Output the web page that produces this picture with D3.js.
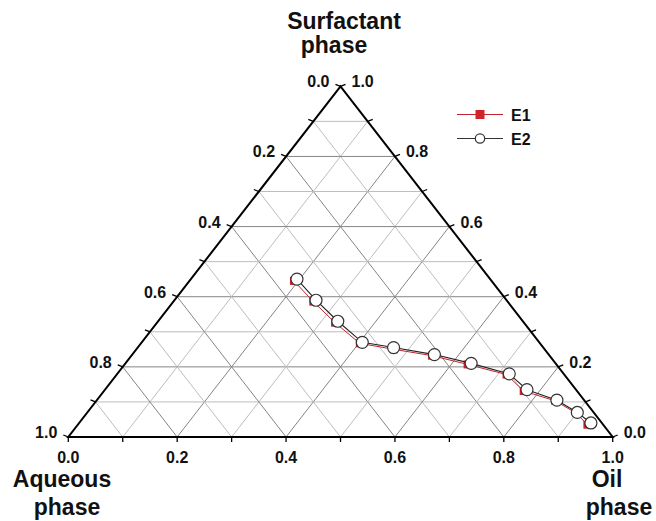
<!DOCTYPE html>
<html>
<head>
<meta charset="utf-8">
<script src="https://cdn.jsdelivr.net/npm/d3@7"></script>
<style>
    body { margin: 0; background: #fff; }
    svg text { font-family: "Liberation Sans", Arial, sans-serif; fill: #111; }
    .grid-minor { stroke: #bdbdbd; stroke-width: 1; }
    .grid-major { stroke: #858585; stroke-width: 1; }
    .axis-line { stroke: #000; stroke-width: 2; fill: none; }
    .tick { stroke: #000; stroke-width: 1.3; }
    .tick-label { font-size: 16px; font-weight: bold; }
    .title { font-size: 23px; font-weight: bold; }
</style>
</head>
<body>
<svg id="canvas" width="656" height="521"></svg>
<script>
    // ternary data: fractions of surfactant, oil, aqueous phase
    const seriesNames = ["E1", "E2"];
    const e1Surfactant = [0.445, 0.386, 0.326, 0.267, 0.25, 0.232, 0.207, 0.178, 0.131, 0.103, 0.068, 0.035];
    const e1Oil        = [0.192, 0.257, 0.327, 0.402, 0.473, 0.552, 0.63, 0.716, 0.771, 0.843, 0.899, 0.936];
    const e1Aqueous    = [0.363, 0.357, 0.347, 0.331, 0.277, 0.216, 0.163, 0.106, 0.098, 0.054, 0.033, 0.029];
    const e2Surfactant = [0.45, 0.39, 0.33, 0.27, 0.255, 0.235, 0.21, 0.18, 0.135, 0.105, 0.07, 0.04];
    const e2Oil        = [0.195, 0.26, 0.33, 0.405, 0.47, 0.555, 0.635, 0.72, 0.775, 0.845, 0.90, 0.94];
    const e2Aqueous    = [0.355, 0.35, 0.34, 0.325, 0.275, 0.21, 0.155, 0.10, 0.09, 0.05, 0.03, 0.02];
    const tickValues = [0, 0.1, 0.2, 0.3, 0.4, 0.5, 0.6, 0.7, 0.8, 0.9, 1.0];
    const labelValues = [0, 0.2, 0.4, 0.6, 0.8, 1.0];

    const svg = d3.select("#canvas");

    // triangle frame: bottom-left, bottom-right and apex
    const xL = 68.3, xR = 612.7, yB = 437, yT = 86.3;
    const hScale = d3.scaleLinear().domain([0, 1]).range([xL, xR]);
    const vScale = d3.scaleLinear().domain([0, 1]).range([yB, yT]);

    // oil runs along the bottom, surfactant is the height
    function project(oil, surf) {
        return [hScale(oil + surf / 2), vScale(surf)];
    }

    const gridG = svg.append("g");
    tickValues.slice(1, -1).forEach((v, i) => {
        const cls = (i % 2 === 1) ? "grid-major" : "grid-minor";
        // constant surfactant (horizontal)
        let a = project(0, v), b = project(1 - v, v);
        gridG.append("line").attr("class", cls).attr("x1", a[0]).attr("y1", a[1]).attr("x2", b[0]).attr("y2", b[1]);
        // constant oil
        a = project(v, 0); b = project(v, 1 - v);
        gridG.append("line").attr("class", cls).attr("x1", a[0]).attr("y1", a[1]).attr("x2", b[0]).attr("y2", b[1]);
        // constant aqueous
        a = project(1 - v, 0); b = project(0, 1 - v);
        gridG.append("line").attr("class", cls).attr("x1", a[0]).attr("y1", a[1]).attr("x2", b[0]).attr("y2", b[1]);
    });

    const corners = [project(0, 0), project(1, 0), project(0, 1)];
    svg.append("path")
        .attr("class", "axis-line")
        .attr("d", d3.line()(corners) + "Z");

    const axisG = svg.append("g");
    tickValues.forEach(v => {
        // bottom axis (oil)
        let p = project(v, 0);
        axisG.append("line").attr("class", "tick").attr("x1", p[0]).attr("y1", p[1]).attr("x2", p[0]).attr("y2", p[1] + 5);
        // left axis (aqueous, 0 at apex)
        p = project(0, 1 - v);
        axisG.append("line").attr("class", "tick").attr("x1", p[0]).attr("y1", p[1]).attr("x2", p[0] - 5).attr("y2", p[1] - 2);
        // right axis (surfactant)
        p = project(1 - v, v);
        axisG.append("line").attr("class", "tick").attr("x1", p[0]).attr("y1", p[1]).attr("x2", p[0] + 5).attr("y2", p[1] - 2);
    });

    labelValues.forEach(v => {
        let p = project(v, 0);
        axisG.append("text").attr("class", "tick-label")
            .attr("x", p[0]).attr("y", p[1] + 26)
            .attr("text-anchor", "middle").text(v.toFixed(1));
        p = project(0, 1 - v);
        axisG.append("text").attr("class", "tick-label")
            .attr("x", p[0] - 11).attr("y", p[1] + 1)
            .attr("text-anchor", "end").text(v.toFixed(1));
        p = project(1 - v, v);
        axisG.append("text").attr("class", "tick-label")
            .attr("x", p[0] + 11).attr("y", p[1] + 1)
            .attr("text-anchor", "start").text(v.toFixed(1));
    });

    // corner titles
    const titles = [
        { t: "Surfactant", x: 344, y: 29 },
        { t: "phase", x: 334, y: 53 },
        { t: "Aqueous", x: 62, y: 487 },
        { t: "phase", x: 67, y: 515 },
        { t: "Oil", x: 607, y: 487 },
        { t: "phase", x: 619, y: 515 }
    ];
    svg.selectAll(".title").data(titles).enter()
        .append("text").attr("class", "title")
        .attr("x", d => d.x).attr("y", d => d.y)
        .attr("text-anchor", "middle").text(d => d.t);

    const e1 = e1Oil.map((o, i) => project(o, e1Surfactant[i]));
    const e2 = e2Oil.map((o, i) => project(o, e2Surfactant[i]));

    svg.append("path").datum(e1)
        .attr("fill", "none").attr("stroke", "#c0242c").attr("stroke-width", 1)
        .attr("d", d3.line());
    svg.selectAll(".e1").data(e1).enter()
        .append("rect").attr("class", "e1")
        .attr("x", d => d[0] - 4).attr("y", d => d[1] - 4)
        .attr("width", 8).attr("height", 8)
        .attr("fill", "#d0222b");

    svg.append("path").datum(e2)
        .attr("fill", "none").attr("stroke", "#222").attr("stroke-width", 1.1)
        .attr("d", d3.line());
    svg.selectAll(".e2").data(e2).enter()
        .append("circle").attr("class", "e2")
        .attr("cx", d => d[0]).attr("cy", d => d[1]).attr("r", 6)
        .attr("fill", "#fff").attr("stroke", "#333").attr("stroke-width", 1.2);

    // legend
    const legend = svg.append("g");
    seriesNames.forEach((name, i) => {
        const y = 114.5 + i * 24;
        const color = i === 0 ? "#c0242c" : "#333";
        legend.append("line").attr("x1", 457).attr("y1", y).attr("x2", 503).attr("y2", y)
            .attr("stroke", color).attr("stroke-width", 1.2);
        if (i === 0) {
            legend.append("rect").attr("x", 475.5).attr("y", y - 4.5).attr("width", 9).attr("height", 9)
                .attr("fill", "#d0222b");
        } else {
            legend.append("circle").attr("cx", 480).attr("cy", y).attr("r", 4.7)
                .attr("fill", "#fff").attr("stroke", "#333").attr("stroke-width", 1.2);
        }
        legend.append("text").attr("x", 511).attr("y", y + 6)
            .style("font-size", "16px").style("font-weight", "bold").text(name);
    });
</script>
</body>
</html>
